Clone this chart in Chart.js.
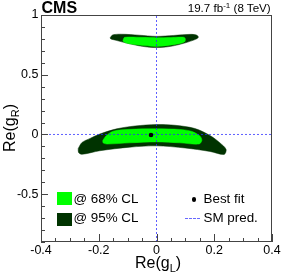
<!DOCTYPE html>
<html>
<head>
<meta charset="utf-8">
<script src="https://cdn.jsdelivr.net/npm/chart.js@4/dist/chart.umd.min.js"></script>
<style>
body { margin: 0; background: #fff; }
#wrap { position: relative; width: 283px; height: 277px; font-family: "Liberation Sans", Arial, sans-serif; color: #000; }
canvas { position: absolute; left: 0; top: 0; }
.t { position: absolute; white-space: nowrap; line-height: 1; }
</style>
</head>
<body>
<div id="wrap">
  <canvas id="c" width="283" height="277"></canvas>
  <div class="t" style="left:41.5px;top:0.2px;font-size:16px;font-weight:bold">CMS</div>
  <div class="t" style="right:12.3px;top:2.3px;font-size:11.6px">19.7 fb<span style="font-size:8px;position:relative;top:-4px">-1</span> (8 TeV)</div>

  <div style="position:absolute;left:57.3px;top:191.7px;width:14.4px;height:13.3px;background:#00ff00"></div>
  <div class="t" style="left:73.5px;top:192.4px;font-size:13.4px">@ 68% CL</div>
  <div style="position:absolute;left:57.3px;top:212.8px;width:14.4px;height:13.3px;background:#003300"></div>
  <div class="t" style="left:73.5px;top:211px;font-size:13.4px">@ 95% CL</div>

  <div style="position:absolute;left:191.8px;top:197.3px;width:4.4px;height:4.4px;border-radius:50%;background:#000"></div>
  <div class="t" style="left:203.5px;top:192.4px;font-size:13.4px">Best fit</div>
  <div style="position:absolute;left:185px;top:217.5px;width:15px;border-top:1px dashed rgba(40,40,255,0.7)"></div>
  <div class="t" style="left:203.5px;top:211px;font-size:13.4px">SM pred.</div>

  <div class="t" style="left:135px;top:254.8px;font-size:16px">Re(g<span style="font-size:11px;position:relative;top:4px">L</span>)</div>
  <div class="t" style="left:-20.2px;top:120.3px;width:60px;height:16px;text-align:center;font-size:16px;transform:rotate(-90deg)">Re(g<span style="font-size:11px;position:relative;top:4px">R</span>)</div>
</div>
<script>
// axes
var xRange = [-0.4, 0.4]
var yRange = [-0.9, 1]
var xTicks = [-0.4, -0.2, 0, 0.2, 0.4]
var yTicks = [-0.5, 0, 0.5, 1]
var xMinorStep = 0.05
var yMinorStep = 0.1

// 95% CL contour, upper island
var upper95X = [-0.161, -0.152, -0.12, -0.06, 0, 0.06, 0.12, 0.14, 0.145, 0.135, 0.1, 0.05, 0, -0.05, -0.1, -0.14, -0.158, -0.161]
var upper95Y = [0.808, 0.833, 0.839, 0.831, 0.821, 0.829, 0.838, 0.831, 0.813, 0.796, 0.767, 0.738, 0.727, 0.738, 0.763, 0.788, 0.8, 0.808]
// 68% CL contour, upper island
var upper68X = [-0.116, -0.11, -0.05, 0, 0.05, 0.095, 0.1, 0.097, 0.06, 0, -0.06, -0.105, -0.116, -0.116]
var upper68Y = [0.79, 0.813, 0.813, 0.81, 0.812, 0.814, 0.8, 0.775, 0.752, 0.737, 0.748, 0.765, 0.78, 0.79]
// 95% CL contour, lower island
var lower95X = [-0.271, -0.258, -0.23, -0.196, -0.138, -0.074, 0, 0.064, 0.133, 0.185, 0.22, 0.241, 0.234, 0.185, 0.099, 0, -0.092, -0.196, -0.258, -0.27, -0.271]
var lower95Y = [-0.117, -0.067, -0.033, 0.004, 0.047, 0.071, 0.083, 0.077, 0.05, -0.008, -0.071, -0.125, -0.167, -0.142, -0.113, -0.095, -0.106, -0.136, -0.166, -0.15, -0.117]
// 68% CL contour, lower island
var lower68X = [-0.186, -0.175, -0.15, -0.092, 0, 0.081, 0.123, 0.151, 0.157, 0.147, 0.081, 0, -0.092, -0.172, -0.185, -0.186]
var lower68Y = [-0.05, -0.0125, 0.0275, 0.043, 0.0475, 0.042, 0.025, -0.014, -0.05, -0.08, -0.07, -0.062, -0.07, -0.08, -0.07, -0.05]

var bestFitX = [-0.019]
var bestFitY = [-0.004]
var smX = 0
var smY = 0

var green68 = '#00ff00'
var green95 = '#003300'
var smColor = 'rgba(40,40,255,0.75)'

function pts(xs, ys) {
  return xs.map(function(x, i) { return {x: x, y: ys[i]} })
}

function contour(label, xs, ys, color, order) {
  return {
    label: label,
    data: pts(xs, ys),
    fill: 'shape',
    backgroundColor: color,
    borderColor: color,
    borderWidth: 0.5,
    pointRadius: 0,
    tension: 0.3,
    order: order
  }
}

// inward ticks + frame, ROOT style
var framePlugin = {
  id: 'frame',
  afterDatasetsDraw: function(chart) {
    var ctx = chart.ctx, a = chart.chartArea
    var xs = chart.scales.x, ys = chart.scales.y
    ctx.save()
    ctx.strokeStyle = '#444'
    ctx.lineWidth = 1
    ctx.strokeRect(a.left + 0.5, a.top + 0.5, a.right - a.left - 1, a.bottom - a.top - 1)
    ctx.beginPath()
    var n = Math.round((xRange[1] - xRange[0]) / xMinorStep)
    for (var i = 0; i <= n; i++) {
      var v = xRange[0] + i * xMinorStep
      var major = xTicks.some(function(t) { return Math.abs(t - v) < 1e-6 })
      var px = Math.round(xs.getPixelForValue(v)) + 0.5
      ctx.moveTo(px, a.bottom)
      ctx.lineTo(px, a.bottom - (major ? 8 : 4))
    }
    var m = Math.round((yRange[1] - yRange[0]) / yMinorStep)
    for (var j = 0; j <= m; j++) {
      var w = yRange[0] + j * yMinorStep
      var majorY = yTicks.some(function(t) { return Math.abs(t - w) < 1e-6 })
      var py = Math.round(ys.getPixelForValue(w)) + 0.5
      ctx.moveTo(a.left, py)
      ctx.lineTo(a.left + (majorY ? 7 : 4), py)
    }
    ctx.stroke()
    ctx.restore()
  }
}

new Chart(document.getElementById('c').getContext('2d'), {
  type: 'line',
  data: {
    datasets: [
      {
        label: 'Best fit',
        data: pts(bestFitX, bestFitY),
        showLine: false,
        pointRadius: 2.3,
        pointBackgroundColor: '#000',
        pointBorderWidth: 0,
        order: 0
      },
      {
        label: 'SM pred.',
        data: [{x: smX, y: yRange[0]}, {x: smX, y: yRange[1]}],
        borderColor: smColor, borderWidth: 1, borderDash: [2, 2],
        pointRadius: 0, fill: false, order: 1
      },
      {
        label: 'SM pred. y',
        data: [{x: xRange[0], y: smY}, {x: xRange[1], y: smY}],
        borderColor: smColor, borderWidth: 1, borderDash: [2, 2],
        pointRadius: 0, fill: false, order: 1
      },
      contour('@ 68% CL', upper68X, upper68Y, green68, 2),
      contour('@ 68% CL', lower68X, lower68Y, green68, 2),
      contour('@ 95% CL', upper95X, upper95Y, green95, 3),
      contour('@ 95% CL', lower95X, lower95Y, green95, 3)
    ]
  },
  options: {
    responsive: false,
    animation: false,
    layout: { padding: { top: 15, right: 11, left: 0, bottom: 0 } },
    plugins: { legend: { display: false }, tooltip: { enabled: false } },
    scales: {
      x: {
        type: 'linear',
        min: xRange[0], max: xRange[1],
        grid: { display: false, drawTicks: false },
        border: { display: false },
        afterBuildTicks: function(s) { s.ticks = xTicks.map(function(v) { return {value: v} }) },
        afterFit: function(s) { s.height = 35 },
        ticks: {
          autoSkip: false, maxRotation: 0, padding: 1,
          color: '#000',
          font: { family: 'Liberation Sans', size: 12.5 },
          callback: function(v) { return String(v) }
        }
      },
      y: {
        type: 'linear',
        min: yRange[0], max: yRange[1],
        grid: { display: false, drawTicks: false },
        border: { display: false },
        afterBuildTicks: function(s) { s.ticks = yTicks.map(function(v) { return {value: v} }) },
        afterFit: function(s) { s.width = 41 },
        ticks: {
          autoSkip: false, padding: 2.5,
          color: '#000',
          font: { family: 'Liberation Sans', size: 12.5 },
          callback: function(v) { return String(v) }
        }
      }
    }
  },
  plugins: [framePlugin]
})
</script>
</body>
</html>
